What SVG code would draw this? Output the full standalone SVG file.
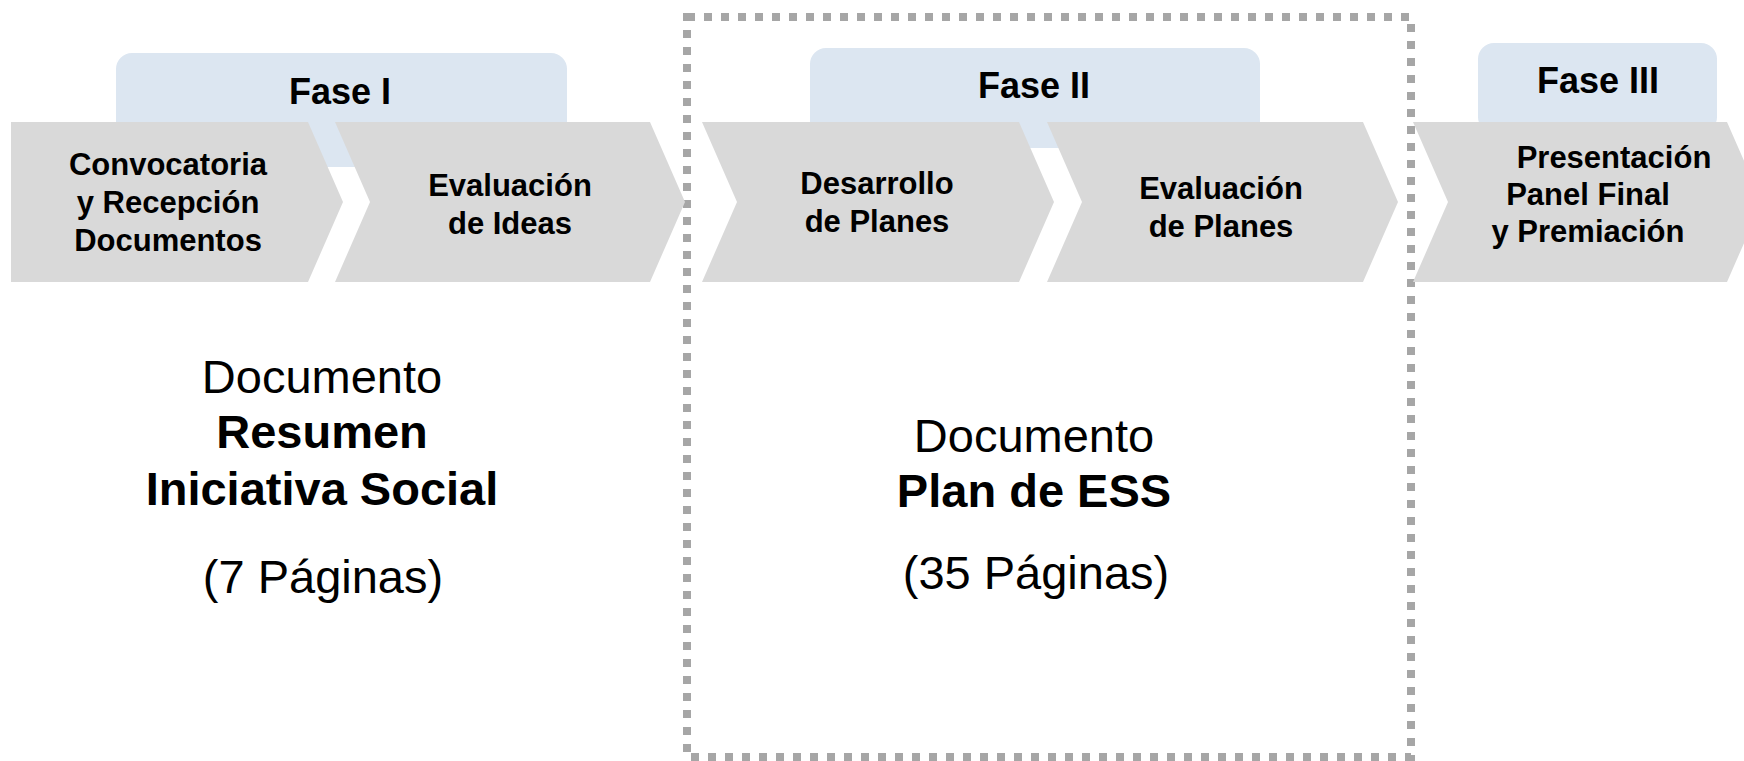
<svg xmlns="http://www.w3.org/2000/svg" width="1744" height="761" viewBox="0 0 1744 761">
<style>
.phase{fill:#dce6f1;}
.chev{fill:#d9d9d9;}
.ph{font-family:"Liberation Sans",Arial,sans-serif;font-weight:bold;font-size:36px;fill:#000;text-anchor:middle;}
.cl{font-family:"Liberation Sans",Arial,sans-serif;font-weight:bold;font-size:31px;fill:#000;text-anchor:middle;}
.big{font-family:"Liberation Sans",Arial,sans-serif;font-size:47px;fill:#000;text-anchor:middle;}
.bigb{font-family:"Liberation Sans",Arial,sans-serif;font-size:47px;font-weight:bold;fill:#000;text-anchor:middle;}
.dot{fill:none;stroke:#a6a6a6;stroke-width:8;stroke-dasharray:8 9;}
</style>
<rect width="1744" height="761" fill="#ffffff"/>
<g id="fase1"><rect class="phase" x="116" y="53" width="451" height="114" rx="16"/><text class="ph" x="340" y="104">Fase I</text></g>
<g id="fase2"><rect class="phase" x="810" y="48" width="450" height="100" rx="16"/><text class="ph" x="1034" y="98">Fase II</text></g>
<g id="fase3"><rect class="phase" x="1478" y="43" width="239" height="90" rx="16"/><text class="ph" x="1598" y="93">Fase III</text></g>
<g id="dotted-frame"><rect class="dot" x="687" y="17" width="724" height="740"/></g>
<g id="step1"><polygon class="chev" points="11,122 308,122 343,202 308,282 11,282"/>
<text class="cl" x="168" y="175">Convocatoria</text><text class="cl" x="168" y="213">y Recepción</text><text class="cl" x="168" y="251">Documentos</text></g>
<g id="step2"><polygon class="chev" points="335,122 650,122 685,202 650,282 335,282 370,202"/>
<text class="cl" x="510" y="196">Evaluación</text><text class="cl" x="510" y="234">de Ideas</text></g>
<g id="step3"><polygon class="chev" points="702,122 1019,122 1054,202 1019,282 702,282 737,202"/>
<text class="cl" x="877" y="194">Desarrollo</text><text class="cl" x="877" y="232">de Planes</text></g>
<g id="step4"><polygon class="chev" points="1047,122 1363,122 1398,202 1363,282 1047,282 1082,202"/>
<text class="cl" x="1221" y="199">Evaluación</text><text class="cl" x="1221" y="237">de Planes</text></g>
<g id="step5"><polygon class="chev" points="1413,122 1727,122 1762,202 1727,282 1413,282 1448,202"/>
<text class="cl" x="1614" y="168">Presentación</text><text class="cl" x="1588" y="205">Panel Final</text><text class="cl" x="1588" y="242">y Premiación</text></g>
<g id="doc1"><text class="big" x="322" y="393">Documento</text><text class="bigb" x="322" y="448">Resumen</text><text class="bigb" x="322" y="505">Iniciativa Social</text><text class="big" x="323" y="593">(7 Páginas)</text></g>
<g id="doc2"><text class="big" x="1034" y="452">Documento</text><text class="bigb" x="1034" y="507">Plan de ESS</text><text class="big" x="1036" y="589">(35 Páginas)</text></g>
<g id="connectors"></g>
</svg>
